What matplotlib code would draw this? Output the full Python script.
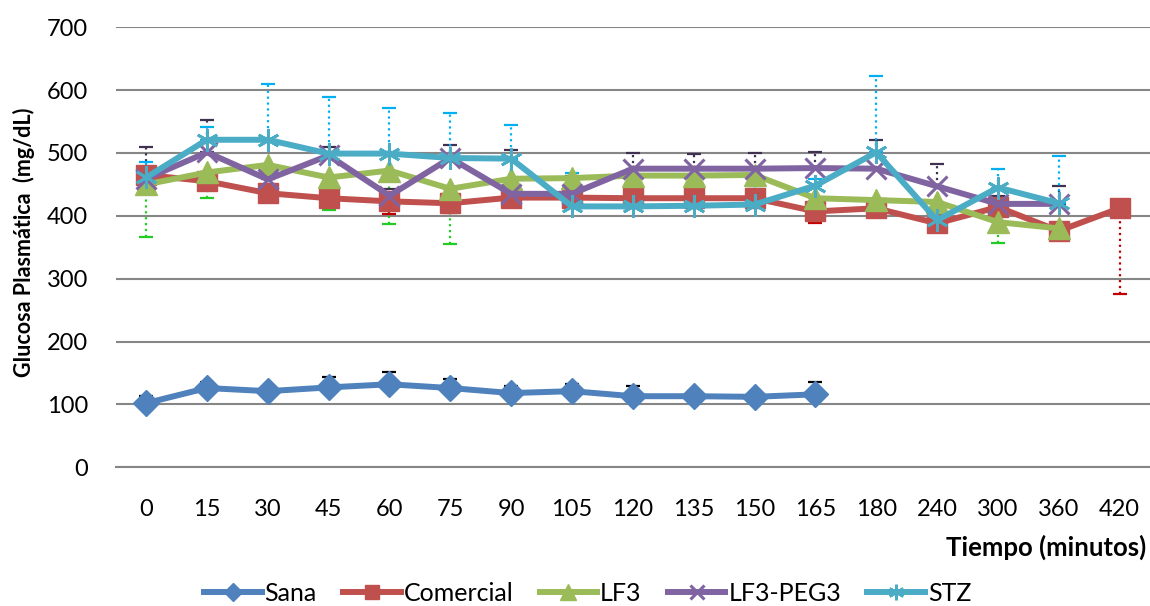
import numpy as np
import matplotlib
matplotlib.use("Agg")
import matplotlib.pyplot as plt

plt.rcParams['font.family'] = ['Lato', 'DejaVu Sans']

nan = np.nan
# tiempo (min) - eje de categorias
tiempos = ['0', '15', '30', '45', '60', '75', '90', '105', '120', '135',
           '150', '165', '180', '240', '300', '360', '420']

sana = [102, 126, 121, 127, 132, 126, 118, 121, 113, 113, 112, 116,
        nan, nan, nan, nan, nan]
sana_err = [11, 9, 3, 16, 19, 14, 11, 12, 16, 9, 3, 19, 0, 0, 0, 0, 0]

comercial = [465, 455, 436, 428, 423, 420, 429, 429, 428, 428, 428, 407,
             412, 388, 414, 376, 412]
comercial_err = [4, 4, 3, 4, 20, 16, 4, 4, 4, 4, 4, 19, 4, 4, 4, 4, 137]

lf3 = [450, 469, 481, 461, 472, 443, 459, 460, 464, 464, 465, 428,
       425, 422, 390, 380, nan]
lf3_err = [84, 41, 6, 51, 85, 88, 6, 6, 6, 6, 6, 6, 6, 6, 33, 6, 0]

peg3 = [459, 501, 458, 496, 432, 492, 435, 435, 475, 475, 475, 476,
        475, 447, 419, 419, nan]
peg3_err = [51, 51, 12, 14, 10, 20, 70, 29, 25, 24, 25, 25, 46, 35, 12, 28, 0]

stz = [461, 521, 521, 499, 499, 492, 491, 415, 415, 416, 418, 448,
       501, 393, 445, 420, nan]
stz_err = [24, 20, 89, 90, 72, 72, 53, 53, 31, 31, 30, 10, 122, 13, 30, 75, 0]

fig = plt.figure(figsize=(11.5, 6.06), dpi=100)
ax = fig.add_axes([0.1006, 0.229, 0.8994, 0.726])
x = np.arange(len(tiempos))
zeros = [0] * len(tiempos)

# barras de error
eb_style = [
    (sana, [zeros, sana_err], 'black', '-'),
    (comercial, [comercial_err, zeros], '#C00000', ':'),
    (lf3, [lf3_err, zeros], '#22CC22', ':'),
    (peg3, [zeros, peg3_err], '#403151', ':'),
    (stz, [zeros, stz_err], '#00B0F0', ':'),
]
for vals, err, col, ls in eb_style:
    e = ax.errorbar(x, vals, yerr=err, fmt='none', ecolor=col, elinewidth=1.6,
                    capsize=5, capthick=1.6, zorder=2)
    e[2][0].set_linestyle(ls)

lw = 4.3
ax.plot(x, sana, color='#4F81BD', lw=lw, marker='D', ms=13, label='Sana', zorder=3)
ax.plot(x, comercial, color='#C0504D', lw=lw, marker='s', ms=14, label='Comercial', zorder=3)
ax.plot(x, lf3, color='#9BBB59', lw=lw, marker='^', ms=16, label='LF3', zorder=3)
ax.plot(x, peg3, color='#8064A2', lw=lw, marker='x', ms=14, mew=2.2, label='LF3-PEG3', zorder=3)
ax.plot(x, stz, color='#4BACC6', lw=lw, marker=(6, 2, 0), ms=16, mew=2, label='STZ', zorder=3)

ax.set_xlim(-0.5, len(tiempos) - 0.5)
ax.set_ylim(0, 700)
ax.set_yticks(range(0, 701, 100))
ax.set_xticks(x)
ax.set_xticklabels(tiempos)
ax.tick_params(length=0, labelsize=17)
ax.tick_params(axis='y', pad=20)
ax.tick_params(axis='x', pad=23)
ax.grid(axis='y', color='#868686', lw=1.5)
ax.set_axisbelow(True)
for s in ['top', 'right', 'left']:
    ax.spines[s].set_visible(False)
ax.spines['bottom'].set_color('#868686')
ax.spines['bottom'].set_linewidth(1.5)

fig.text(0.021, 0.6, 'Glucosa Plasmática  (mg/dL)', rotation=90, fontsize=15.5,
         fontweight='bold', ha='center', va='center')
fig.text(0.997, 0.097, 'Tiempo (minutos)', fontsize=18.5, fontweight='bold',
         ha='right', va='center')

fig.legend(loc='center', bbox_to_anchor=(0.511, 0.021), ncol=5, frameon=False,
           fontsize=18, handlelength=2.3, columnspacing=1.05, handletextpad=0.12,
           markerscale=0.7)

fig.savefig('out.png', dpi=100)
